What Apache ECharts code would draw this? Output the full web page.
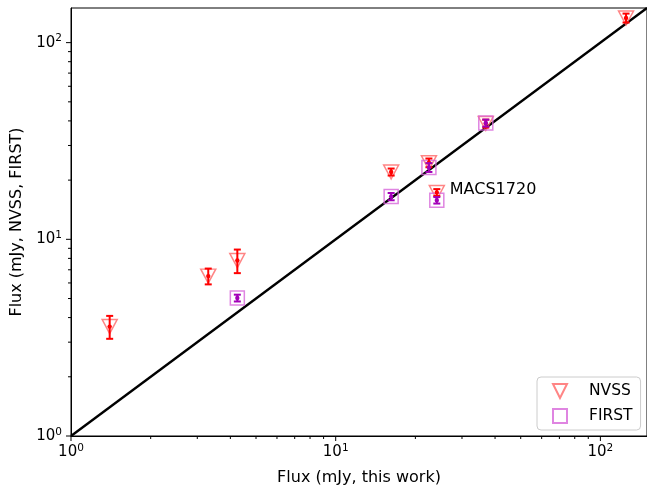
<!DOCTYPE html>
<html><head><meta charset="utf-8">
<script src="https://cdn.jsdelivr.net/npm/echarts@6/dist/echarts.min.js"></script>
<style>html,body{margin:0;padding:0;background:#fff}#c{width:647px;height:491px}</style>
</head><body><div id="c"></div>
<script>
const xWork     = [1.4, 3.3, 4.25, 16.2, 22.5, 24.1, 36.9, 125];
const nvssFlux  = [3.6, 6.5, 7.8, 22.0, 24.5, 17.3, 38.8, 133.5];
const nvssErr   = [0.48, 0.6, 1.07, 0.9, 1.25, 0.7, 1.8, 7];
const firstFlux = [null, null, 5.03, 16.5, 23.2, 15.8, 39.0, null];
const firstErr  = [null, null, 0.2, 0.7, 1.2, 0.6, 1.6, null];
const labelIndex = 5;
const labelText = 'MACS1720';
const majorTicks = [1, 10, 100];
const minorTicks = [2,3,4,5,6,7,8,9,20,30,40,50,60,70,80,90];
const lineRange = [1, 150];

const FONT = 'DejaVu Sans';
const chart = echarts.init(document.getElementById('c'), null, {renderer:'canvas'});

const nvssPts = xWork.map((x,i)=>[x, nvssFlux[i]]);
const firstPts = xWork.map((x,i)=> firstFlux[i]==null ? null : [x, firstFlux[i]]).filter(d=>d);
const nvssBars = xWork.map((x,i)=>[x, nvssFlux[i]-nvssErr[i], nvssFlux[i]+nvssErr[i]]);
const firstBars = xWork.map((x,i)=> firstFlux[i]==null ? null : [x, firstFlux[i]-firstErr[i], firstFlux[i]+firstErr[i]]).filter(d=>d);

function errRender(color){
  return function(params, api){
    const x = api.value(0), lo = api.value(1), hi = api.value(2);
    const a = api.coord([x, lo]), b = api.coord([x, hi]);
    const c = api.coord([x, (lo+hi)/2]);
    const cw = 3.5;
    const st = {stroke:color, lineWidth:2};
    return {type:'group', children:[
      {type:'line', shape:{x1:a[0], y1:a[1], x2:b[0], y2:b[1]}, style:st},
      {type:'line', shape:{x1:a[0]-cw, y1:a[1], x2:a[0]+cw, y2:a[1]}, style:st},
      {type:'line', shape:{x1:b[0]-cw, y1:b[1], x2:b[0]+cw, y2:b[1]}, style:st},
      {type:'circle', shape:{cx:c[0], cy:c[1], r:2.2}, style:{fill:color}}
    ]};
  };
}
function labelRender(params, api){
  const p = api.coord([api.value(0), api.value(1)]);
  return {type:'text', x:p[0]+13, y:p[1]-3, style:{text:labelText, fill:'#000', font:'16px "DejaVu Sans"', textAlign:'left', textVerticalAlign:'middle'}};
}
function xTick(len){
  return function(params, api){
    const p = api.coord([api.value(0), 1]);
    return {type:'line', shape:{x1:p[0], y1:p[1], x2:p[0], y2:p[1]+len}, style:{stroke:'#000', lineWidth:1}};
  };
}
function yTick(len){
  return function(params, api){
    const p = api.coord([1, api.value(1)]);
    return {type:'line', shape:{x1:p[0], y1:p[1], x2:p[0]-len, y2:p[1]}, style:{stroke:'#000', lineWidth:1}};
  };
}
function fmt(v){
  const e = Math.round(Math.log10(v));
  if (Math.abs(Math.log10(v)-e) > 1e-6) return '';
  return '{b|10}{s|' + e + '}';
}
const rich = {b:{fontFamily:FONT, fontSize:15, color:'#000'}, s:{fontFamily:FONT, fontSize:10.5, color:'#000', padding:[0,0,8,0]}};

const option = {
  animation:false,
  grid:{left:71, right:0, top:8, bottom:54, show:true, borderColor:'#000', borderWidth:1, backgroundColor:'#fff'},
  xAxis:{type:'log', logBase:10, min:1, max:150,
    axisLine:{show:true, lineStyle:{color:'#000', width:1}}, axisTick:{show:false}, splitLine:{show:false},
    axisLabel:{formatter:fmt, rich:rich, margin:7, showMaxLabel:false},
    name:'Flux (mJy, this work)', nameLocation:'middle', nameGap:34,
    nameTextStyle:{fontFamily:FONT, fontSize:16, color:'#000'}},
  yAxis:{type:'log', logBase:10, min:1, max:150,
    axisLine:{show:true, lineStyle:{color:'#000', width:1}}, axisTick:{show:false}, splitLine:{show:false},
    axisLabel:{formatter:fmt, rich:rich, margin:9, showMaxLabel:false},
    name:'Flux (mJy, NVSS, FIRST)', nameLocation:'middle', nameGap:45,
    nameTextStyle:{fontFamily:FONT, fontSize:16, color:'#000'}},
  legend:{
    data:['NVSS','FIRST'], orient:'vertical', left:537, top:377,
    padding:[6,8,6,15], itemGap:9, itemWidth:14, itemHeight:14,
    backgroundColor:'rgba(255,255,255,0.8)', borderColor:'#cccccc', borderWidth:1, borderRadius:4,
    textStyle:{fontFamily:FONT, fontSize:15.5, color:'#000', padding:[0,0,0,17]}
  },
  series:[
    {type:'line', data:[[lineRange[0],lineRange[0]],[lineRange[1],lineRange[1]]], showSymbol:false, symbol:'none',
     lineStyle:{color:'#000', width:2.4}, z:1, silent:true},
    {name:'NVSS', type:'scatter', data:nvssPts, symbol:'path://M0,0L2,0L1,2Z', symbolSize:[15,14],
     itemStyle:{color:'rgba(0,0,0,0)', borderColor:'#ff6666', borderWidth:1.5}, z:2},
    {name:'FIRST', type:'scatter', data:firstPts, symbol:'path://M0,0L2,0L2,2L0,2Z', symbolSize:14,
     itemStyle:{color:'rgba(0,0,0,0)', borderColor:'#d766d9', borderWidth:1.5}, z:2},
    {type:'custom', data:nvssBars, renderItem:errRender('#ff0000'), encode:{x:0, y:[1,2]}, z:3, silent:true},
    {type:'custom', data:firstBars, renderItem:errRender('#a300b8'), encode:{x:0, y:[1,2]}, z:3, silent:true},
    {type:'custom', data:[[xWork[labelIndex], nvssFlux[labelIndex]]], renderItem:labelRender, encode:{x:0, y:1}, clip:false, z:6, silent:true},
    {type:'custom', data:majorTicks.map(v=>[v, 1]), renderItem:xTick(5), encode:{x:0, y:1}, clip:false, z:5, silent:true},
    {type:'custom', data:minorTicks.map(v=>[v, 1]), renderItem:xTick(3), encode:{x:0, y:1}, clip:false, z:5, silent:true},
    {type:'custom', data:majorTicks.map(v=>[1, v]), renderItem:yTick(5), encode:{x:0, y:1}, clip:false, z:5, silent:true},
    {type:'custom', data:minorTicks.map(v=>[1, v]), renderItem:yTick(3), encode:{x:0, y:1}, clip:false, z:5, silent:true}
  ]
};
chart.setOption(option);
</script></body></html>
